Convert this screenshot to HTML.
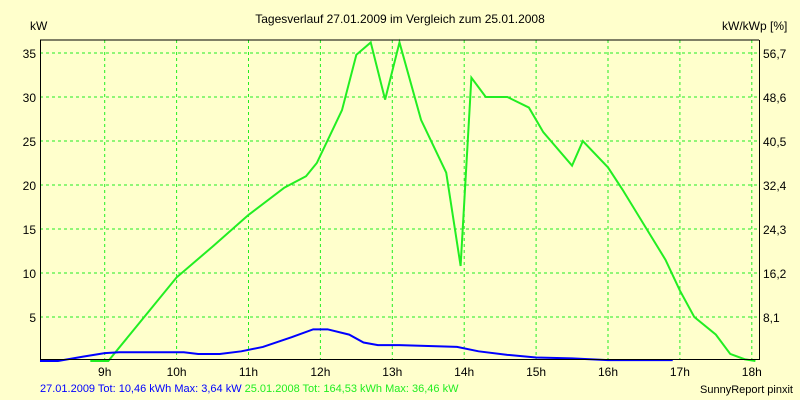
<!DOCTYPE html>
<html><head><meta charset="utf-8"><style>
body{margin:0;background:#ffffcc;}
svg{display:block;font-family:"Liberation Sans",sans-serif;}
</style></head><body>
<svg id="c" width="800" height="400">
<rect width="800" height="400" fill="#ffffcc"/>
<text x="400" y="23" text-anchor="middle" font-size="12">Tagesverlauf 27.01.2009 im Vergleich zum 25.01.2008</text>
<text x="30" y="30" font-size="12">kW</text>
<text x="722" y="30" font-size="12">kW/kWp [%]</text>
<g id="grid"></g>
<g id="series"></g>
<line x1="40" y1="40" x2="759" y2="40" stroke="#000"/>
<line x1="40.5" y1="40" x2="40.5" y2="360" stroke="#000"/>
<line x1="759.5" y1="40" x2="759.5" y2="360" stroke="#000"/>
<line x1="40" y1="359.5" x2="760" y2="359.5" stroke="#000"/>
<text x="40" y="392" font-size="11"><tspan fill="#0000ff">27.01.2009 Tot: 10,46 kWh Max: 3,64 kW</tspan><tspan fill="#22ee22"> 25.01.2008 Tot: 164,53 kWh Max: 36,46 kW</tspan></text>
<text x="793" y="393" text-anchor="end" font-size="11">SunnyReport pinxit</text>
</svg>
<script>
const hourTicks=[9,10,11,12,13,14,15,16,17,18];
const yTicks=[5,10,15,20,25,30,35];
const y2Labels=["8,1","16,2","24,3","32,4","40,5","48,6","56,7"];
const greenT=[8.8,9.05,9.2,9.5,10,10.5,11,11.5,11.8,11.95,12.3,12.5,12.7,12.9,13.1,13.4,13.75,13.95,14.1,14.3,14.6,14.9,15.1,15.5,15.65,16,16.2,16.5,16.8,17,17.2,17.5,17.7,17.9,18.05];
const greenV=[0,0,1.5,4.5,9.5,13,16.6,19.7,21,22.5,28.5,34.8,36.2,29.7,36.2,27.4,21.4,10.8,32.2,30,30,28.8,26,22.2,25,22,19.5,15.5,11.5,8,5,3,0.8,0.2,0];
const blueT=[8.1,8.35,8.7,9,9.2,10.1,10.3,10.6,10.9,11.2,11.6,11.9,12.1,12.4,12.6,12.8,13.1,13.5,13.9,14.2,14.6,15,15.5,16,16.9];
const blueV=[0,0,0.5,0.9,1.0,1.0,0.8,0.8,1.1,1.6,2.7,3.6,3.6,3.0,2.1,1.8,1.8,1.7,1.6,1.1,0.7,0.4,0.3,0.1,0.1];
const NS="http://www.w3.org/2000/svg";
const X=h=>104.7+(h-9)*71.9;
const Y=v=>361-v*8.8;
const grid=document.getElementById('grid'),ser=document.getElementById('series'),svg=document.getElementById('c');
function mk(tag,at,p){const e=document.createElementNS(NS,tag);for(const k in at)e.setAttribute(k,at[k]);p.appendChild(e);return e;}
hourTicks.forEach(h=>{
const l=mk('line',{x1:X(h),x2:X(h),y1:40,y2:359,stroke:'#22ee22','stroke-dasharray':'3,3'},grid);


const t=mk('text',{x:X(h),y:376,'text-anchor':'middle','font-size':12},svg);
t.textContent=h+'h';


});
yTicks.forEach((v,i)=>{
const l=mk('line',{x1:40,x2:759,y1:Y(v),y2:Y(v),stroke:'#22ee22','stroke-dasharray':'3,3'},grid);


const t=mk('text',{x:36,y:Y(v)+5,'text-anchor':'end','font-size':12},svg);
t.textContent=v;


const t2=mk('text',{x:763,y:Y(v)+5,'font-size':12},svg);
t2.textContent=y2Labels[i];


});
const g=mk('polyline',{points:greenT.map((t,i)=>X(t)+','+Y(greenV[i])).join(' '),fill:'none',stroke:'#22ee22','stroke-width':2},ser);


const b=mk('polyline',{points:blueT.map((t,i)=>X(t)+','+Y(blueV[i])).join(' '),fill:'none',stroke:'#0000ff','stroke-width':2},ser);


</script>
</body></html>
